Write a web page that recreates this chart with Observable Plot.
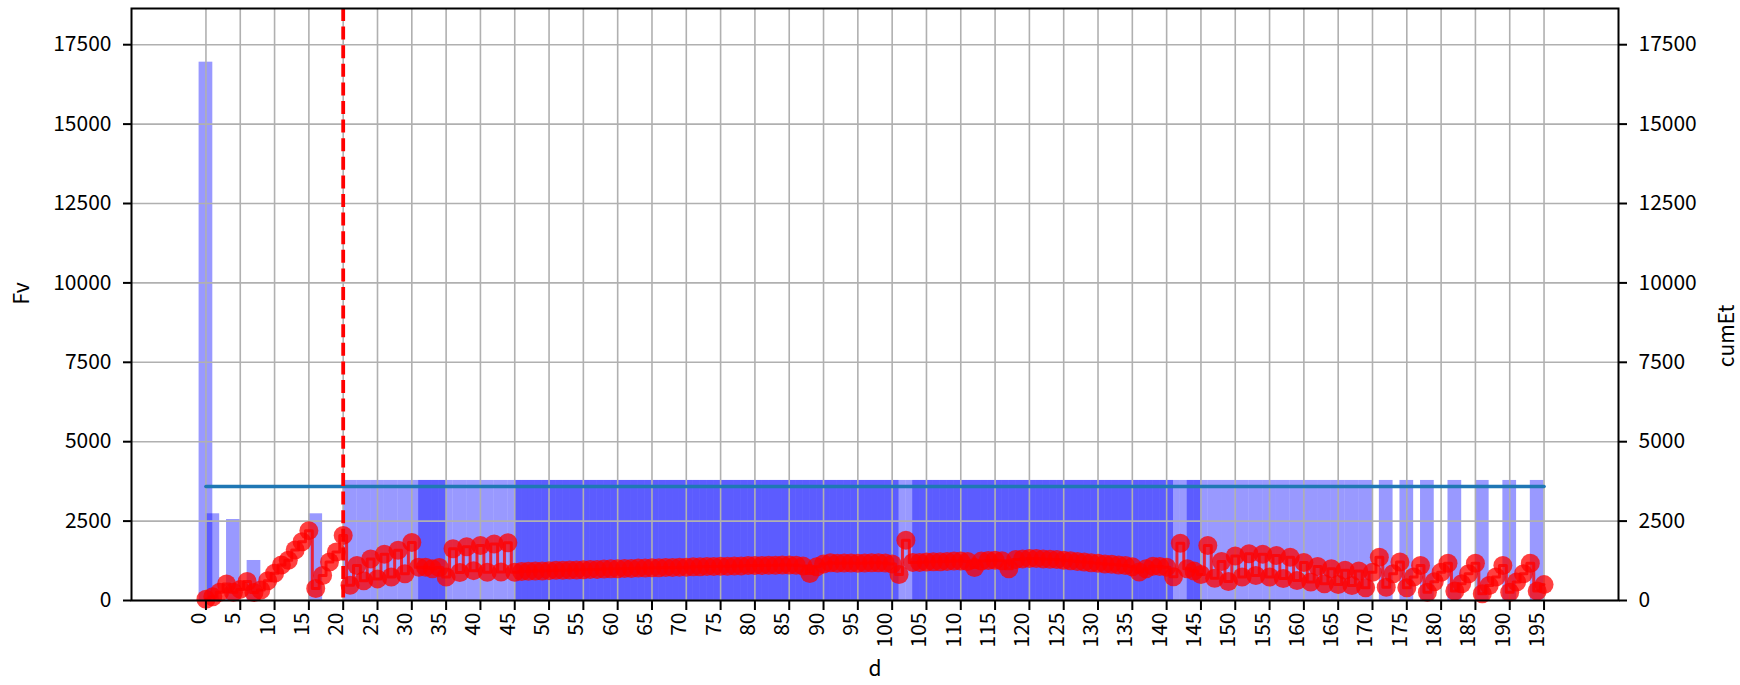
<!DOCTYPE html>
<html><head><meta charset="utf-8">
<script src="https://cdn.jsdelivr.net/npm/d3@7"></script>
<script src="https://cdn.jsdelivr.net/npm/@observablehq/plot@0.6"></script>
<style>
body{margin:0;background:#fff;}
svg{display:block}
</style></head><body><div id="chart"></div>
<script>
// Fv bars (left axis): day and value
const barDays = [
  0,1,4,7,16,
  21,23,25,27,29,31,32,33,34,35,
  37,39,41,43,45,46,47,48,49,50,
  51,52,53,54,55,56,57,58,59,60,
  61,62,63,64,65,66,67,68,69,70,
  71,72,73,74,75,76,77,78,79,80,
  81,82,83,84,85,86,87,88,89,90,
  91,92,93,94,95,96,97,98,99,100,
  101,103,104,105,106,107,108,109,110,111,
  112,113,114,115,116,117,118,119,120,121,
  122,123,124,125,126,127,128,129,130,131,
  132,133,134,135,136,137,138,139,140,141,
  143,144,145,147,149,151,153,155,157,159,
  161,163,165,167,169,172,175,178,182,186,
  190,194
];
const barFv = [
  16950,2730,2550,1260,2730,
  3780,3780,3780,3780,3780,3780,3780,3780,3780,3780,
  3780,3780,3780,3780,3780,3780,3780,3780,3780,3780,
  3780,3780,3780,3780,3780,3780,3780,3780,3780,3780,
  3780,3780,3780,3780,3780,3780,3780,3780,3780,3780,
  3780,3780,3780,3780,3780,3780,3780,3780,3780,3780,
  3780,3780,3780,3780,3780,3780,3780,3780,3780,3780,
  3780,3780,3780,3780,3780,3780,3780,3780,3780,3780,
  3780,3780,3780,3780,3780,3780,3780,3780,3780,3780,
  3780,3780,3780,3780,3780,3780,3780,3780,3780,3780,
  3780,3780,3780,3780,3780,3780,3780,3780,3780,3780,
  3780,3780,3780,3780,3780,3780,3780,3780,3780,3780,
  3780,3780,3780,3780,3780,3780,3780,3780,3780,3780,
  3780,3780,3780,3780,3780,3780,3780,3780,3780,3780,
  3780,3780
];

// cumEt (right axis): day and value
const cumDays = [
  0,1,2,3,4,5,6,7,8,9,
  10,11,12,13,14,15,16,17,18,19,
  20,21,22,23,24,25,26,27,28,29,
  30,31,32,33,34,35,36,37,38,39,
  40,41,42,43,44,45,46,47,48,49,
  50,51,52,53,54,55,56,57,58,59,
  60,61,62,63,64,65,66,67,68,69,
  70,71,72,73,74,75,76,77,78,79,
  80,81,82,83,84,85,86,87,88,89,
  90,91,92,93,94,95,96,97,98,99,
  100,101,102,103,104,105,106,107,108,109,
  110,111,112,113,114,115,116,117,118,119,
  120,121,122,123,124,125,126,127,128,129,
  130,131,132,133,134,135,136,137,138,139,
  140,141,142,143,144,145,146,147,148,149,
  150,151,152,153,154,155,156,157,158,159,
  160,161,162,163,164,165,166,167,168,169,
  170,171,172,173,174,175,176,177,178,179,
  180,181,182,183,184,185,186,187,188,189,
  190,191,192,193,194,195
];
const cumEt = [
  40,120,260,520,260,350,600,250,330,620,
  860,1120,1270,1590,1850,2200,380,790,1210,1530,
  2050,480,1100,620,1310,680,1460,740,1580,840,
  1830,1050,1050,1000,1040,740,1630,880,1690,940,
  1730,890,1780,900,1820,890,910,920,930,930,
  940,950,950,960,960,970,980,980,990,1000,
  1000,1010,1010,1020,1020,1030,1030,1040,1040,1050,
  1050,1060,1060,1070,1070,1080,1080,1090,1090,1100,
  1100,1100,1110,1110,1120,1120,1110,1090,850,1060,
  1150,1190,1170,1180,1180,1170,1180,1190,1190,1180,
  1150,820,1900,1200,1200,1210,1220,1220,1230,1240,
  1240,1230,1040,1240,1260,1270,1250,1000,1290,1310,
  1320,1320,1310,1300,1290,1270,1250,1230,1210,1190,
  1170,1150,1140,1120,1100,1060,900,1000,1080,1070,
  1050,750,1800,1000,930,820,1730,700,1230,600,
  1400,740,1470,790,1460,740,1420,690,1360,630,
  1200,580,1070,530,1000,500,950,470,930,400,
  890,1360,420,840,1210,400,740,1100,260,590,
  890,1170,300,530,840,1170,210,470,740,1100,
  260,580,840,1170,300,500
];

// threshold line
const thresholdDays = [0, 195];
const thresholdValues = [3590, 3590];

// vertical dashed marker
const markerDays = [20];

// ticks
const xTicks = [0,5,10,15,20,25,30,35,40,45,50,55,60,65,70,75,80,85,90,95,100,105,110,115,120,125,130,135,140,145,150,155,160,165,170,175,180,185,190,195];
const yTicks = [0,2500,5000,7500,10000,12500,15000,17500];

const xLabel = "d";
const yLeftLabel = "Fv";
const yRightLabel = "cumEt";

const bars = barDays.map((d, i) => ({d, v: barFv[i]}));
const pts = cumDays.map((d, i) => ({d, v: cumEt[i]}));
const thr = thresholdDays.map((d, i) => ({d, v: thresholdValues[i]}));

const FS = 21;
const BAR_HALF = 1;

const chart = Plot.plot({
  width: 1740,
  height: 685,
  marginLeft: 131,
  marginRight: 122,
  marginTop: 8,
  marginBottom: 85,
  style: {fontFamily: "'Noto Sans CJK JP', 'Noto Sans', sans-serif", fontSize: FS + "px", background: "white", color: "black", overflow: "hidden"},
  x: {domain: [-10.85, 205.85]},
  y: {domain: [0, 18640]},
  marks: [
    Plot.rectY(bars, {x1: b => b.d - BAR_HALF, x2: b => b.d + BAR_HALF, y1: 0, y2: "v", fill: "#0000ff", fillOpacity: 0.4}),
    Plot.gridX(xTicks, {stroke: "#b0b0b0", strokeOpacity: 1, strokeWidth: 1.6}),
    Plot.gridY(yTicks, {stroke: "#b0b0b0", strokeOpacity: 1, strokeWidth: 1.6}),
    Plot.line(thr, {x: "d", y: "v", stroke: "#1f77b4", strokeWidth: 3.6}),
    Plot.line(pts, {x: "d", y: "v", curve: "step", stroke: "red", strokeOpacity: 0.78, strokeWidth: 3}),
    Plot.dot(pts, {x: "d", y: "v", r: 9.5, fill: "red", fillOpacity: 0.75, stroke: "none"}),
    Plot.ruleX(markerDays, {stroke: "red", strokeWidth: 3.8, strokeDasharray: "13,5.6"}),
    Plot.frame({stroke: "black", strokeWidth: 2}),
    Plot.axisY(yTicks, {anchor: "left", tickSize: 8, tickPadding: 12, strokeWidth: 2, tickFormat: "d", label: null}),
    Plot.axisY(yTicks, {anchor: "right", tickSize: 8, tickPadding: 12, strokeWidth: 2, tickFormat: "d", label: null}),
    Plot.axisX(xTicks, {anchor: "bottom", tickSize: 10, strokeWidth: 2, tickFormat: () => "", label: null}),
    Plot.text(xTicks, {x: t => t, frameAnchor: "bottom", rotate: -90, textAnchor: "end", lineAnchor: "bottom", dy: 12, text: t => String(t), fill: "black"}),
    Plot.text([yLeftLabel], {frameAnchor: "left", rotate: -90, dx: -109, text: t => t, lineAnchor: "middle", fill: "black"}),
    Plot.text([yRightLabel], {frameAnchor: "right", rotate: -90, dx: 109, text: t => t, lineAnchor: "middle", fill: "black"}),
    Plot.text([xLabel], {frameAnchor: "bottom", dy: 61, text: t => t, lineAnchor: "top", fill: "black"})
  ]
});
document.getElementById("chart").appendChild(chart);
</script>
</body></html>
